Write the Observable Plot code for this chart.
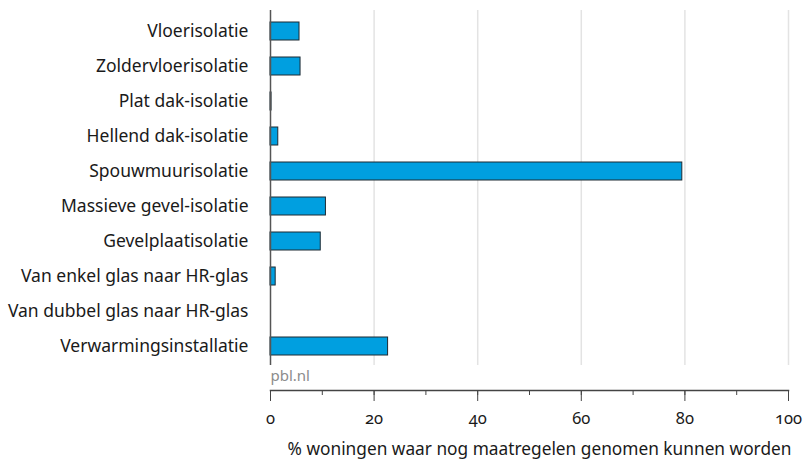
<!DOCTYPE html>
<html>
<head>
<meta charset="utf-8">
<script src="https://cdn.jsdelivr.net/npm/d3@7"></script>
<script src="https://cdn.jsdelivr.net/npm/@observablehq/plot@0.6"></script>
<style>
  html, body { margin: 0; padding: 0; background: #fff; }
  #chart svg { font-family: "Noto Sans", sans-serif; }
  #chart svg g[aria-label="x-axis tick label"] text { font-variant-numeric: oldstyle-nums; font-feature-settings: "onum" 1; }
</style>
</head>
<body>
<div id="chart"></div>
<script>
const categories = [
  "Vloerisolatie",
  "Zoldervloerisolatie",
  "Plat dak-isolatie",
  "Hellend dak-isolatie",
  "Spouwmuurisolatie",
  "Massieve gevel-isolatie",
  "Gevelplaatisolatie",
  "Van enkel glas naar HR-glas",
  "Van dubbel glas naar HR-glas",
  "Verwarmingsinstallatie"
];
const values = [5.6, 5.8, 0.2, 1.5, 79.5, 10.7, 9.7, 1.0, 0, 22.7];
const majorTicks = [0, 20, 40, 60, 80, 100];
const minorTicks = [0, 10, 20, 30, 40, 50, 60, 70, 80, 90, 100];
const gridTicks = [20, 40, 60, 80, 100];
const xLabel = "% woningen waar nog maatregelen genomen kunnen worden";
const source = "pbl.nl";

const data = categories.map((c, i) => ({category: c, value: values[i]}));

const chart = Plot.plot({
  width: 805,
  height: 461,
  marginLeft: 270,
  marginRight: 17,
  marginTop: 10,
  marginBottom: 71,
  style: {fontFamily: "Noto Sans, sans-serif", background: "#fff"},
  x: {domain: [0, 100]},
  y: {domain: categories, range: [10.5, 365.5], paddingInner: 0.5, paddingOuter: 0.25},
  marks: [
    Plot.ruleX(gridTicks, {stroke: "#e3e3e3", strokeWidth: 1.5, insetBottom: 25}),
    Plot.barX(data, {y: "category", x: "value", fill: "#009fe0", stroke: "#1d2a33", strokeWidth: 1}),
    Plot.ruleX([0], {stroke: "#555", strokeWidth: 1.5, insetBottom: 25}),
    Plot.axisY({tickSize: 0, tickPadding: 22, fontSize: 17.5, fill: "#1a1a1a", label: null}),
    Plot.axisX({ticks: minorTicks, tickSize: 5, tickFormat: () => "", stroke: "#444", label: null}),
    Plot.axisX({ticks: majorTicks, tickSize: 11, tickPadding: 11, fontSize: 16.5, fill: "#1a1a1a", stroke: "#444", label: null}),
    Plot.frame({anchor: "bottom", stroke: "#444", strokeWidth: 1.5}),
    Plot.text([source], {frameAnchor: "bottom-left", dy: -10, textAnchor: "start", fill: "#8c8c8c", fontSize: 15}),
    Plot.text([xLabel], {frameAnchor: "bottom", dy: 64, dx: 10, fontSize: 17.3, fill: "#1a1a1a"})
  ]
});
document.getElementById("chart").appendChild(chart);
</script>
</body>
</html>
